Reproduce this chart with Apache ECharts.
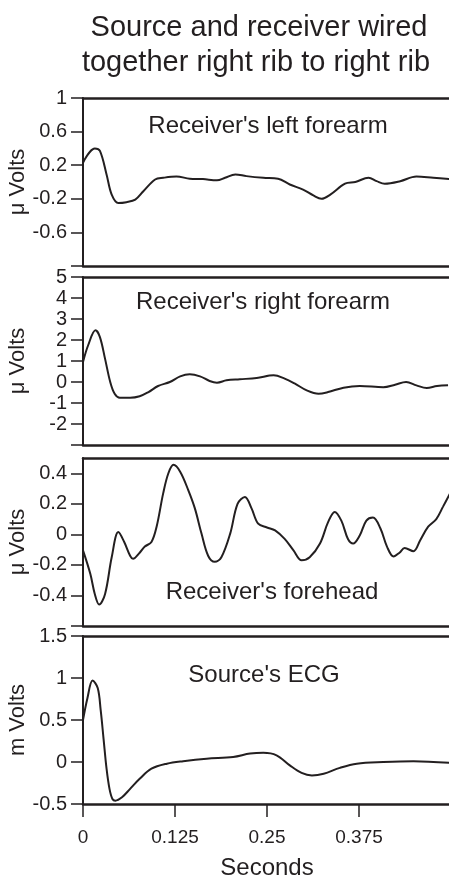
<!DOCTYPE html>
<html><head><meta charset="utf-8">
<script src="https://cdn.jsdelivr.net/npm/echarts@6/dist/echarts.min.js"></script>
<style>html,body{margin:0;padding:0;background:#fff}#c{width:449px;height:882px}</style>
</head><body><div id="c"></div>
<script>
// Seconds vs value pairs
const leftForearm = [[0,0.23],[0.016,0.40],[0.023,0.37],[0.032,0.09],[0.039,-0.15],[0.048,-0.25],[0.059,-0.24],[0.071,-0.21],[0.082,-0.11],[0.098,0.03],[0.109,0.05],[0.127,0.065],[0.145,0.04],[0.163,0.035],[0.182,0.02],[0.193,0.05],[0.207,0.09],[0.222,0.07],[0.245,0.05],[0.265,0.04],[0.281,-0.03],[0.299,-0.09],[0.313,-0.16],[0.324,-0.20],[0.336,-0.15],[0.356,-0.02],[0.370,0.0],[0.388,0.05],[0.399,0.01],[0.410,-0.02],[0.431,0.01],[0.453,0.065],[0.476,0.05],[0.499,0.035]];
const rightForearm = [[0,0.95],[0.007,1.75],[0.017,2.46],[0.023,2.14],[0.030,1.1],[0.037,0],[0.043,-0.56],[0.050,-0.75],[0.064,-0.75],[0.077,-0.68],[0.089,-0.48],[0.102,-0.19],[0.118,0],[0.132,0.27],[0.145,0.37],[0.159,0.27],[0.172,0.05],[0.182,-0.03],[0.195,0.08],[0.213,0.13],[0.236,0.19],[0.259,0.32],[0.274,0.16],[0.288,-0.08],[0.304,-0.4],[0.320,-0.56],[0.333,-0.48],[0.354,-0.27],[0.376,-0.19],[0.408,-0.25],[0.424,-0.13],[0.439,0],[0.453,-0.16],[0.467,-0.29],[0.481,-0.19],[0.496,-0.16]];
const forehead = [[0,-0.105],[0.010,-0.26],[0.016,-0.39],[0.022,-0.46],[0.030,-0.39],[0.039,-0.15],[0.048,0.015],[0.056,-0.05],[0.064,-0.14],[0.068,-0.16],[0.077,-0.12],[0.084,-0.08],[0.093,-0.05],[0.100,0.05],[0.109,0.27],[0.116,0.40],[0.123,0.455],[0.132,0.41],[0.143,0.29],[0.152,0.17],[0.161,0.005],[0.170,-0.14],[0.179,-0.18],[0.188,-0.15],[0.200,0.005],[0.210,0.20],[0.220,0.245],[0.229,0.17],[0.238,0.07],[0.250,0.045],[0.261,0.026],[0.274,-0.03],[0.286,-0.105],[0.297,-0.17],[0.308,-0.15],[0.322,-0.06],[0.333,0.08],[0.342,0.147],[0.351,0.09],[0.360,-0.03],[0.367,-0.06],[0.376,-0.007],[0.385,0.09],[0.394,0.11],[0.404,0.04],[0.413,-0.08],[0.422,-0.145],[0.430,-0.12],[0.437,-0.09],[0.449,-0.11],[0.458,-0.04],[0.469,0.05],[0.480,0.10],[0.489,0.18],[0.499,0.27]];
const sourceEcg = [[0,0.5],[0.006,0.76],[0.013,0.97],[0.020,0.88],[0.024,0.62],[0.028,0.27],[0.032,-0.08],[0.036,-0.32],[0.040,-0.44],[0.044,-0.46],[0.053,-0.42],[0.064,-0.32],[0.077,-0.2],[0.093,-0.08],[0.114,-0.02],[0.136,0.01],[0.168,0.04],[0.204,0.06],[0.227,0.10],[0.245,0.11],[0.263,0.08],[0.281,-0.04],[0.297,-0.13],[0.311,-0.16],[0.327,-0.14],[0.349,-0.07],[0.372,-0.02],[0.408,0],[0.449,0.01],[0.499,-0.01]];

const titleLines = ["Source and receiver wired", "together right rib to right rib"];
const panelTitles = ["Receiver's left forearm", "Receiver's right forearm", "Receiver's forehead", "Source's ECG"];
const yNames = ["\u03bc Volts", "\u03bc Volts", "\u03bc Volts", "m Volts"];
const yRanges = [[-1, 1], [-3, 5], [-0.6, 0.5], [-0.5, 1.5]];
const yTicks = [[-1,-0.6,-0.2,0.2,0.6,1],[-3,-2,-1,0,1,2,3,4,5],[-0.6,-0.4,-0.2,0,0.2,0.4],[-0.5,0,0.5,1,1.5]];
const yLabels = [[-0.6,-0.2,0.2,0.6,1],[-2,-1,0,1,2,3,4,5],[-0.4,-0.2,0,0.2,0.4],[-0.5,0,0.5,1,1.5]];
const xTicks = [0, 0.125, 0.25, 0.375];
const xName = "Seconds";
const seriesData = [leftForearm, rightForearm, forehead, sourceEcg];

const INK = '#231f20';
const FONT = '"Liberation Sans", Arial, Helvetica, sans-serif';
const gridTops = [98, 277, 458, 636];
const gridH = 168;

const grids = [], xAxes = [], yAxes = [], series = [], graphics = [];
for (let i = 0; i < 4; i++) {
  grids.push({left: 83, width: 368, top: gridTops[i], height: gridH, show: false, containLabel: false, outerBoundsMode: 'none'});
  const last = i === 3;
  xAxes.push({
    type: 'value', gridIndex: i, min: 0, max: 0.5, position: 'bottom',
    axisLine: {show: true, onZero: false, lineStyle: {color: INK, width: 2.5}},
    axisTick: {show: last, length: 13, lineStyle: {color: INK, width: 1.5}, customValues: xTicks},
    axisLabel: {show: last, margin: 24, color: INK, fontSize: 19, fontFamily: FONT, customValues: xTicks,
      formatter: v => String(Math.round(v * 1000) / 1000)},
    splitLine: {show: false},
    name: last ? xName : '', nameLocation: 'middle', nameGap: 52, nameMoveOverlap: false,
    nameTextStyle: {color: INK, fontSize: 24, fontFamily: FONT}
  });
  // top border of each panel
  xAxes.push({
    type: 'value', gridIndex: i, min: 0, max: 0.5, position: 'top',
    axisLine: {show: true, onZero: false, lineStyle: {color: INK, width: 2.5}},
    axisTick: {show: false}, axisLabel: {show: false}, splitLine: {show: false}
  });
  yAxes.push({
    type: 'value', gridIndex: i, min: yRanges[i][0], max: yRanges[i][1],
    axisLine: {show: true, onZero: false, lineStyle: {color: INK, width: 2}},
    axisTick: {show: true, length: 12, lineStyle: {color: INK, width: 1.5}, customValues: yTicks[i]},
    axisLabel: {margin: 16, color: INK, fontSize: 20, fontFamily: FONT, customValues: yLabels[i],
      formatter: v => String(Math.round(v * 100) / 100)},
    splitLine: {show: false},
    name: yNames[i], nameLocation: 'middle', nameGap: 54, nameMoveOverlap: false,
    nameTextStyle: {color: INK, fontSize: 22, fontFamily: FONT}
  });
  series.push({type: 'line', xAxisIndex: 2 * i, yAxisIndex: i, data: seriesData[i], smooth: 0.35, showSymbol: false,
    lineStyle: {color: INK, width: 2}, clip: true, silent: true});
}
const panelTitlePos = [[268, 126], [263, 302], [272, 592], [264, 675]];
for (let i = 0; i < 4; i++) {
  graphics.push({type: 'text', x: panelTitlePos[i][0], y: panelTitlePos[i][1],
    style: {text: panelTitles[i], fill: INK, font: '24px ' + FONT, textAlign: 'center', textVerticalAlign: 'middle'}});
}
graphics.push({type: 'text', x: 259, y: 28, style: {text: titleLines[0], fill: INK, font: '29px ' + FONT, textAlign: 'center', textVerticalAlign: 'middle'}});
graphics.push({type: 'text', x: 256, y: 63, style: {text: titleLines[1], fill: INK, font: '29px ' + FONT, textAlign: 'center', textVerticalAlign: 'middle'}});

const chart = echarts.init(document.getElementById('c'), null, {renderer: 'canvas'});
chart.setOption({
  animation: false,
  backgroundColor: '#fff',
  grid: grids, xAxis: xAxes, yAxis: yAxes, series: series, graphic: graphics
});
</script></body></html>
